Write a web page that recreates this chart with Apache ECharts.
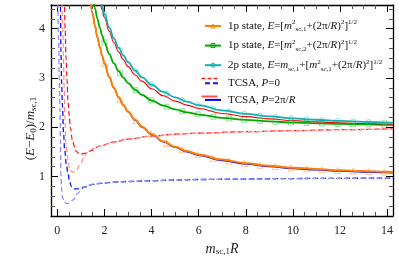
<!DOCTYPE html>
<html><head><meta charset="utf-8">
<script src="https://cdn.jsdelivr.net/npm/echarts@6/dist/echarts.min.js"></script>
<style>html,body{margin:0;padding:0;background:#fff}#c{width:399px;height:268px}</style>
</head><body><div id="c"></div>
<script>
// ---- axis ticks ----
const xTicks = [0, 2, 4, 6, 8, 10, 12, 14];
const xMinor = [0.5, 1, 1.5, 2.5, 3, 3.5, 4.5, 5, 5.5, 6.5, 7, 7.5, 8.5, 9, 9.5, 10.5, 11, 11.5, 12.5, 13, 13.5];
const yTicks = [1, 2, 3, 4];
const yMinor = [0.4, 0.6, 0.8, 1.2, 1.4, 1.6, 1.8, 2.2, 2.4, 2.6, 2.8, 3.2, 3.4, 3.6, 3.8, 4.2, 4.4];

// ---- solid curves (theory + TCSA, P=2pi/R) ----
const R_solid = [1.4, 1.5, 1.6, 1.7, 1.8, 1.9, 2.0, 2.2, 2.4, 2.6, 2.8, 3.0, 3.3, 3.6, 4.0, 4.5, 5, 5.5, 6, 7, 8, 9, 10, 11, 12, 13, 14, 14.25];
const orange1p = [4.598, 4.307, 4.052, 3.829, 3.631, 3.455, 3.297, 3.026, 2.802, 2.615, 2.457, 2.321, 2.151, 2.011, 1.862, 1.717, 1.606, 1.518, 1.448, 1.344, 1.272, 1.220, 1.181, 1.152, 1.129, 1.111, 1.096, 1.093];
const blueTCSA = [4.590, 4.300, 4.045, 3.822, 3.624, 3.448, 3.290, 3.018, 2.794, 2.606, 2.448, 2.311, 2.140, 1.999, 1.849, 1.703, 1.590, 1.501, 1.430, 1.325, 1.253, 1.201, 1.162, 1.133, 1.110, 1.092, 1.077, 1.074];
const green1p = [4.913, 4.642, 4.407, 4.202, 4.023, 3.865, 3.724, 3.487, 3.295, 3.137, 3.006, 2.896, 2.761, 2.654, 2.543, 2.439, 2.362, 2.303, 2.258, 2.192, 2.149, 2.118, 2.096, 2.080, 2.067, 2.058, 2.050, 2.048];
const cyan2p = [5.598, 5.307, 5.052, 4.829, 4.631, 4.455, 4.297, 4.026, 3.802, 3.615, 3.457, 3.321, 3.151, 3.011, 2.862, 2.717, 2.606, 2.518, 2.448, 2.344, 2.272, 2.220, 2.181, 2.152, 2.129, 2.111, 2.096, 2.093];
const redTCSA = [5.5, 5.2, 4.96, 4.74, 4.55, 4.38, 4.22, 3.95, 3.72, 3.53, 3.37, 3.23, 3.06, 2.93, 2.78, 2.64, 2.53, 2.45, 2.38, 2.28, 2.215, 2.17, 2.135, 2.11, 2.09, 2.075, 2.065, 2.062];

// ---- markers ----
const R_marks = [2, 2.66, 3.32, 3.98, 4.64, 5.3, 5.96, 6.62, 7.28, 7.94, 8.6, 9.26, 9.92, 10.58, 11.24, 11.9, 12.56, 13.22, 13.88];
const orangeMarks = [3.30, 2.56, 2.135, 1.865, 1.675, 1.545, 1.445, 1.37, 1.312, 1.266, 1.229, 1.20, 1.176, 1.155, 1.138, 1.124, 1.111, 1.10, 1.091];
const greenMarks = [3.724, 3.095, 2.754, 2.548, 2.415, 2.325, 2.261, 2.214, 2.178, 2.151, 2.129, 2.112, 2.098, 2.086, 2.077, 2.069, 2.062, 2.056, 2.051];
const cyanMarks = [4.297, 3.565, 3.141, 2.871, 2.683, 2.551, 2.453, 2.379, 2.321, 2.275, 2.238, 2.208, 2.184, 2.163, 2.146, 2.131, 2.118, 2.107, 2.098];

// ---- dashed TCSA, P=0 ----
const R_blueA = [0.02, 0.05, 0.08, 0.11, 0.13, 0.15, 0.18, 0.22, 0.3, 0.42, 0.55, 0.65, 0.87, 1.02, 1.2, 1.5, 1.8, 2.5, 3, 4, 5, 6, 8, 10, 12, 14.25];
const blueA = [4.6, 3.8, 3.0, 2.4, 1.75, 1.05, 0.75, 0.57, 0.48, 0.45, 0.48, 0.52, 0.66, 0.75, 0.8, 0.84, 0.86, 0.89, 0.9, 0.915, 0.93, 0.94, 0.95, 0.96, 0.965, 0.97];
const R_blueB = [0.11, 0.13, 0.15, 0.18, 0.22, 0.26, 0.31, 0.38, 0.45, 0.52, 0.59, 0.7, 0.85, 1.0, 1.16, 1.5, 1.8, 2.5, 3, 4, 5, 6, 8, 10, 12, 14.25];
const blueB = [4.6, 4.44, 3.6, 2.9, 2.4, 1.9, 1.54, 1.25, 1.06, 0.9, 0.8, 0.75, 0.75, 0.77, 0.79, 0.84, 0.86, 0.89, 0.9, 0.915, 0.93, 0.94, 0.95, 0.96, 0.965, 0.97];
const R_redC = [0.3, 0.33, 0.37, 0.41, 0.45, 0.5, 0.55, 0.65, 0.78, 0.95, 1.15, 1.4, 1.8, 2.4, 3, 4, 5, 6, 8, 10, 12, 14.25];
const redC = [4.6, 4.0, 3.4, 2.95, 2.55, 2.25, 2.0, 1.7, 1.52, 1.45, 1.47, 1.52, 1.62, 1.7, 1.76, 1.82, 1.86, 1.88, 1.91, 1.93, 1.95, 1.97];
const R_redD = [0.2, 0.225, 0.26, 0.29, 0.32, 0.36, 0.44, 0.51, 0.6, 0.68, 0.8, 1.0, 1.14, 1.3, 1.5, 1.8, 2.4, 3, 4, 5, 6, 8, 10, 12, 14.25];
const redD = [4.6, 4.1, 3.4, 2.8, 2.2, 1.7, 1.37, 1.17, 1.1, 1.09, 1.13, 1.27, 1.42, 1.5, 1.56, 1.62, 1.7, 1.76, 1.82, 1.86, 1.88, 1.91, 1.93, 1.95, 1.97];

const zip = (xs, ys) => xs.map((x, i) => [x, ys[i]]);

const SERIF = 'Liberation Serif';
const NAME_1 = '1p state, E=[m²sc,1+(2π/R)²]^1/2';
const NAME_2 = '1p state, E=[m²sc,2+(2π/R)²]^1/2';
const NAME_3 = '2p state, E=msc,1+[m²sc,1+(2π/R)²]^1/2';
const NAME_4 = 'TCSA, P=0';
const NAME_5 = 'TCSA, P=2π/R';
const LF = 11, LS = 7, LH = 14;
const richLegend = {
  t: {fontFamily: SERIF, fontSize: LF, lineHeight: LH, color: '#111'},
  i: {fontFamily: SERIF, fontSize: LF, lineHeight: LH, fontStyle: 'italic', color: '#111'},
  sup: {fontFamily: SERIF, fontSize: LS, lineHeight: 8, verticalAlign: 'top', color: '#111'},
  sub: {fontFamily: SERIF, fontSize: LS, lineHeight: 8, verticalAlign: 'bottom', color: '#111'}
};
const legendText = {};
legendText[NAME_1] = '{t|1p state, }{i|E}{t|=[}{i|m}{sup|2}{sub|sc,1}{t|+(2π/}{i|R}{t|)}{sup|2}{t|]}{sup|1/2}';
legendText[NAME_2] = '{t|1p state, }{i|E}{t|=[}{i|m}{sup|2}{sub|sc,2}{t|+(2π/}{i|R}{t|)}{sup|2}{t|]}{sup|1/2}';
legendText[NAME_3] = '{t|2p state, }{i|E}{t|=}{i|m}{sub|sc,1}{t|+[}{i|m}{sup|2}{sub|sc,1}{t|+(2π/}{i|R}{t|)}{sup|2}{t|]}{sup|1/2}';
legendText[NAME_4] = '{t|TCSA, }{i|P}{t|=0}';
legendText[NAME_5] = '{t|TCSA, }{i|P}{t|=2π/}{i|R}';

const baseLine = (name, xs, ys, color, width, type, z, extra) => Object.assign({
  name: name, type: 'line', data: zip(xs, ys), showSymbol: false, symbol: 'none',
  smooth: 0.4, smoothMonotone: 'x', clip: true, z: z,
  lineStyle: {color: color, width: width, type: type}, itemStyle: {color: color},
  emphasis: {disabled: true}
}, extra || {});

const axisX = (pos, ticks, len, showLabel, showLine, col) => ({
  type: 'value', position: pos, min: -0.27, max: 14.25, gridIndex: 0,
  axisLine: {show: showLine, onZero: false, lineStyle: {color: '#000', width: 1.3}},
  axisTick: {show: true, inside: true, length: len, customValues: ticks, lineStyle: {color: col, width: 1}},
  axisLabel: {show: showLabel, customValues: xTicks, fontFamily: SERIF, fontSize: 12, color: '#222', margin: 9},
  splitLine: {show: false}
});
const axisY = (pos, ticks, len, showLabel, showLine, col) => ({
  type: 'value', position: pos, min: 0.2, max: 4.48, gridIndex: 0,
  axisLine: {show: showLine, onZero: false, lineStyle: {color: '#000', width: 1.3}},
  axisTick: {show: true, inside: true, length: len, customValues: ticks, lineStyle: {color: col, width: 1}},
  axisLabel: {show: showLabel, customValues: yTicks, fontFamily: SERIF, fontSize: 12, color: '#222', margin: 6},
  splitLine: {show: false}
});

const xa0 = axisX('bottom', xTicks, 7, true, true, '#000');
xa0.name = '{i|m}{sub|sc,1}{i|R}';
xa0.nameLocation = 'middle';
xa0.nameGap = 23;
xa0.nameTextStyle = {rich: {
  i: {fontFamily: SERIF, fontSize: 14, fontStyle: 'italic', color: '#222'},
  sub: {fontFamily: SERIF, fontSize: 9, padding: [6, 0, 0, 0], color: '#222'}
}};
const ya0 = axisY('left', yTicks, 7, true, true, '#000');
ya0.name = '{t|(}{i|E}{t|−}{i|E}{sub|0}{t|)/}{i|m}{sub|sc,1}';
ya0.nameLocation = 'middle';
ya0.nameGap = 13;
ya0.nameMoveOverlap = false;
ya0.nameTextStyle = {padding: [0, 36, 0, 0], rich: {
  t: {fontFamily: SERIF, fontSize: 13, color: '#222'},
  i: {fontFamily: SERIF, fontSize: 13, fontStyle: 'italic', color: '#222'},
  sub: {fontFamily: SERIF, fontSize: 9, padding: [6, 0, 0, 0], color: '#222'}
}};

const hollow = (c) => ({color: 'rgba(0,0,0,0)', borderColor: c, borderWidth: 1});

const option = {
  animation: false,
  backgroundColor: '#fff',
  grid: {left: 51, right: 6, top: 5, bottom: 52, containLabel: false},
  xAxis: [xa0, axisX('bottom', xMinor, 4, false, false, '#555'), axisX('top', xTicks, 7, false, true, '#000'), axisX('top', xMinor, 4, false, false, '#555')],
  yAxis: [ya0, axisY('left', yMinor, 4, false, false, '#555'), axisY('right', yTicks, 7, false, true, '#000'), axisY('right', yMinor, 4, false, false, '#555')],
  legend: {
    show: true, orient: 'vertical', left: 199, top: 14, itemGap: 5.6,
    itemWidth: 16, itemHeight: 5, selectedMode: false,
    data: [
      {name: NAME_1, itemStyle: hollow('#ff8000')},
      {name: NAME_2, itemStyle: hollow('#00a800')},
      {name: NAME_3, itemStyle: hollow('#10b0b0')},
      {name: NAME_4, itemStyle: {opacity: 0}},
      {name: NAME_5, itemStyle: {opacity: 0}}
    ],
    formatter: (n) => legendText[n],
    textStyle: {rich: richLegend, padding: [0, 0, 0, 2]}
  },
  graphic: [
    {type: 'line', left: 199, top: 76, z: 100, shape: {x1: 0, y1: 0, x2: 16, y2: 0},
      style: {stroke: '#ff2020', lineWidth: 1.3, lineDash: [4, 2]}},
    {type: 'line', left: 199, top: 94, z: 100, shape: {x1: 0, y1: 0, x2: 16, y2: 0},
      style: {stroke: '#ff5050', lineWidth: 2}}
  ],
  series: [
    baseLine(NAME_4, R_blueB, blueB, '#1010ff', 1.3, [5, 3], 2),
    baseLine('P0 blue b', R_blueA, blueA, '#8a8aff', 1.3, [5, 3], 2, {lineStyle: {color: '#8a8aff', width: 1.3, type: [5, 3], dashOffset: 4}}),
    baseLine('P0 red c', R_redC, redC, '#ff1010', 1.2, [5, 3], 3),
    baseLine('P0 red d', R_redD, redD, '#ff8a8a', 1.2, [5, 3], 3, {lineStyle: {color: '#ff8a8a', width: 1.2, type: [5, 3], dashOffset: 4}}),
    baseLine(NAME_5, R_solid, blueTCSA, '#0000ff', 1.2, 'solid', 4),
    baseLine(NAME_1, R_solid, orange1p, '#ff8000', 2, 'solid', 5, {symbol: 'triangle'}),
    baseLine(NAME_2, R_solid, green1p, '#00a800', 1.8, 'solid', 5, {symbol: 'rect'}),
    baseLine('P2 red', R_solid, redTCSA, '#ff0000', 1.1, 'solid', 6),
    baseLine(NAME_3, R_solid, cyan2p, '#10b0b0', 1.8, 'solid', 6, {symbol: 'circle'}),
    {name: 'orange marks', type: 'scatter', data: zip(R_marks, orangeMarks), symbol: 'triangle', symbolSize: 6, z: 7,
      itemStyle: hollow('rgba(255,140,40,0.6)')},
    {name: 'green marks', type: 'scatter', data: zip(R_marks, greenMarks), symbol: 'rect', symbolSize: 5, z: 7,
      itemStyle: hollow('rgba(40,190,40,0.6)')},
    {name: 'cyan marks', type: 'scatter', data: zip(R_marks, cyanMarks), symbol: 'circle', symbolSize: 5, z: 7,
      itemStyle: hollow('rgba(30,190,190,0.6)')}
  ]
};
const chart = echarts.init(document.getElementById('c'), null, {renderer: 'canvas'});
chart.setOption(option);
</script>
</body></html>
